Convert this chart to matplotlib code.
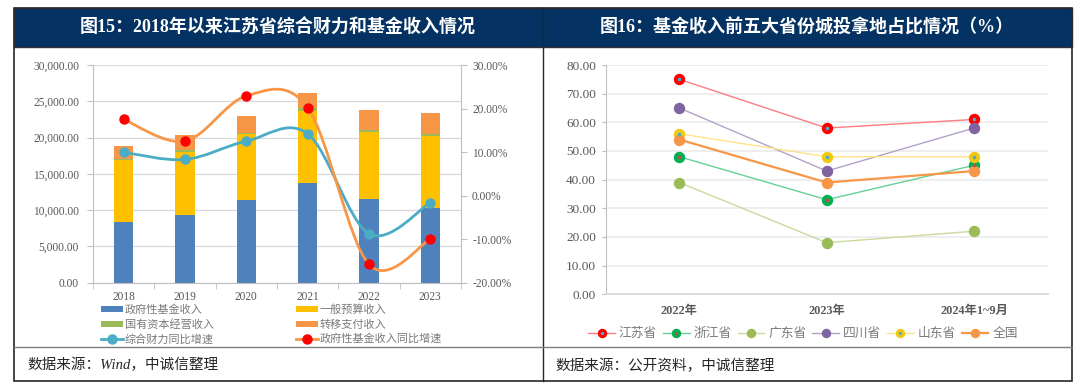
import matplotlib
matplotlib.use('Agg')
import matplotlib.pyplot as plt
import numpy as np
from matplotlib.path import Path
from matplotlib.patches import PathPatch, Rectangle
from matplotlib.lines import Line2D
from matplotlib.ticker import FuncFormatter

plt.rcParams['font.family'] = ['Liberation Serif', 'Noto Sans CJK SC']
plt.rcParams['axes.unicode_minus'] = False

# ---- data: chart 15 ----
years = ['2018', '2019', '2020', '2021', '2022', '2023']
fund_income = [8300, 9290, 11400, 13700, 11530, 10340]
general_budget = [8550, 8680, 9050, 10000, 9190, 9920]
state_capital = [220, 320, 220, 330, 280, 270]
transfer_pay = [1750, 2100, 2300, 2070, 2800, 2900]
total_growth = [9.95, 8.3, 12.5, 14.2, -8.75, -1.6]
fund_growth = [17.5, 12.5, 22.9, 20.2, -15.8, -10.0]

# ---- data: chart 16 ----
periods = ['2022年', '2023年', '2024年1~9月']
provinces = ['江苏省', '浙江省', '广东省', '四川省', '山东省', '全国']
shares = {
    '江苏省': [75, 58, 61],
    '浙江省': [48, 33, 45],
    '广东省': [39, 18, 22],
    '四川省': [65, 43, 58],
    '山东省': [56, 48, 48],
    '全国': [54, 39, 43],
}

W, H = 1080, 391
fig = plt.figure(figsize=(W / 100, H / 100), dpi=100)


def box(x0, y0, x1, y1):
    return [x0 / W, 1 - y1 / H, (x1 - x0) / W, (y1 - y0) / H]


def fx(x):
    return x / W


def fy(y):
    return 1 - y / H


def smooth_path(xs, ys):
    # Excel-like smoothed line (Catmull-Rom -> cubic bezier)
    pts = np.column_stack([xs, ys]).astype(float)
    ext = np.vstack([pts[0], pts, pts[-1]])
    verts = [pts[0]]
    codes = [Path.MOVETO]
    for i in range(len(pts) - 1):
        p0, p1, p2, p3 = ext[i], ext[i + 1], ext[i + 2], ext[i + 3]
        verts += [p1 + (p2 - p0) / 6, p2 - (p3 - p1) / 6, p2]
        codes += [Path.CURVE4] * 3
    return Path(verts, codes)


navy = '#033263'
tick_col = '#595959'
axis_col = '#BFBFBF'
leg_col = '#7A7A7A'

# ---- frame ----
fig.add_artist(Rectangle((fx(14), fy(47)), fx(1072) - fx(14), fy(8) - fy(47),
                         transform=fig.transFigure, facecolor=navy,
                         edgecolor='#333333', lw=1.0, zorder=0))
fig.add_artist(Rectangle((fx(14), fy(381)), fx(1072) - fx(14), fy(8) - fy(381),
                         transform=fig.transFigure, facecolor='none',
                         edgecolor='#262626', lw=1.2, zorder=5))
fig.add_artist(Line2D([fx(543), fx(543)], [fy(8), fy(381)], transform=fig.transFigure,
                      color='#262626', lw=1.0, zorder=5))
fig.add_artist(Line2D([fx(14), fx(1072)], [fy(347), fy(347)], transform=fig.transFigure,
                      color='#7F7F7F', lw=1.0, zorder=5))

fig.text(fx(278), fy(27.5), '图15：2018年以来江苏省综合财力和基金收入情况', color='white',
         fontsize=13, fontweight='bold', ha='center', va='center')
fig.text(fx(807), fy(27.5), '图16：基金收入前五大省份城投拿地占比情况（%）', color='white',
         fontsize=13, fontweight='bold', ha='center', va='center')
fig.text(fx(27), fy(365), '数据来源：Wind，中诚信整理', color='#262626', fontsize=10.5,
         style='italic', ha='left', va='center')
fig.text(fx(555), fy(366), '数据来源：公开资料，中诚信整理', color='#262626', fontsize=10.5,
         style='italic', ha='left', va='center')

# ---- chart 15 ----
ax = fig.add_axes(box(93, 65, 461, 282.7))
x = np.arange(len(years))
bw = 0.31
c_blue, c_yel, c_grn, c_org = '#4F81BD', '#FFC000', '#9BBB59', '#F79646'
b1 = ax.bar(x, fund_income, bw, color=c_blue, zorder=2)
base = np.array(fund_income, dtype=float)
b2 = ax.bar(x, general_budget, bw, bottom=base, color=c_yel, zorder=2)
base += general_budget
b3 = ax.bar(x, state_capital, bw, bottom=base, color=c_grn, zorder=2)
base += state_capital
b4 = ax.bar(x, transfer_pay, bw, bottom=base, color=c_org, zorder=2)

ax.set_xlim(-0.5, len(years) - 0.5)
ax.set_ylim(0, 30000)
ax.set_yticks(np.arange(0, 30001, 5000))
ax.yaxis.set_major_formatter(FuncFormatter(lambda v, p: f'{v:,.2f}'))
ax.set_xticks(x)
ax.set_xticklabels(years)
ax.set_xticks(np.arange(-0.5, len(years)), minor=True)
ax.tick_params(axis='x', which='major', length=0, pad=6, labelsize=8.3, labelcolor=tick_col)
ax.tick_params(axis='x', which='minor', length=4, color=axis_col)
ax.tick_params(axis='y', length=4, color=axis_col, pad=6, labelsize=8.3, labelcolor=tick_col)
ax.grid(axis='y', color='#D9D9D9', lw=0.9)
ax.set_axisbelow(True)
for s in ['top', 'right']:
    ax.spines[s].set_visible(False)
for s in ['left', 'bottom']:
    ax.spines[s].set_color(axis_col)

ax2 = ax.twinx()
ax2.set_ylim(-20, 30)
ax2.set_yticks(np.arange(-20, 31, 10))
ax2.yaxis.set_major_formatter(FuncFormatter(lambda v, p: f'{v:.2f}%'))
ax2.tick_params(axis='y', length=4, color=axis_col, pad=4, labelsize=8.3, labelcolor=tick_col)
for s in ['top', 'left', 'bottom']:
    ax2.spines[s].set_visible(False)
ax2.spines['right'].set_color(axis_col)

c_teal, c_line_org = '#4BACC6', '#F79646'
ax2.add_patch(PathPatch(smooth_path(x, total_growth), fill=False, edgecolor=c_teal, lw=2.0, zorder=3))
ax2.add_patch(PathPatch(smooth_path(x, fund_growth), fill=False, edgecolor=c_line_org, lw=2.0, zorder=3))
ax2.plot(x, total_growth, ls='none', marker='o', ms=6.5, color=c_teal, zorder=4)
ax2.plot(x, fund_growth, ls='none', marker='o', ms=6.5, color='#FF0000', zorder=4)

h_tg = Line2D([], [], color=c_teal, lw=2, marker='o', ms=6.5)
h_fg = Line2D([], [], color=c_line_org, lw=2, marker='o', ms=6.5, mfc='#FF0000', mec='#FF0000')
leg_kw = dict(frameon=False, handlelength=2.0, handleheight=0.45, handletextpad=0.15,
              labelspacing=0.36, borderpad=0, borderaxespad=0, labelcolor=leg_col,
              loc='upper left', prop={'family': ['Liberation Serif', 'Noto Sans CJK SC'], 'size': 8})
fig.legend([b1, b3, h_tg], ['政府性基金收入', '国有资本经营收入', '综合财力同比增速'],
           bbox_to_anchor=(fx(101), fy(304.5)), **leg_kw)
fig.legend([b2, b4, h_fg], ['一般预算收入', '转移支付收入', '政府性基金收入同比增速'],
           bbox_to_anchor=(fx(296), fy(304.5)), **leg_kw)

# ---- chart 16 ----
ax3 = fig.add_axes(box(605.7, 65, 1047.7, 294.3))
styles = {
    '江苏省': ('#FF0000', '#FF7C80', '#4BACC6', 1.0),
    '浙江省': ('#00B050', '#66D096', '#C0504D', 1.0),
    '广东省': ('#9BBB59', '#C9DA9E', None, 1.0),
    '四川省': ('#8064A2', '#B3A2C7', None, 1.0),
    '山东省': ('#F2C811', '#FFE28A', '#4BACC6', 1.0),
    '全国': ('#F79646', '#F79646', None, 1.6),
}
xp = np.arange(len(periods))
handles = []
for name in provinces:
    mc, lc, dc, lw = styles[name]
    ax3.plot(xp, shares[name], color=lc, lw=lw, zorder=2)
    ax3.plot(xp, shares[name], ls='none', marker='o', ms=7.2, color=mc, zorder=3)
    h_line = Line2D([], [], color=lc, lw=lw, marker='o', ms=5.8, mfc=mc, mec=mc)
    if dc is not None:
        ax3.plot(xp, shares[name], ls='none', marker='o', ms=1.6, color=dc, zorder=4)
        handles.append((h_line, Line2D([], [], ls='none', marker='o', ms=1.4, color=dc)))
    else:
        handles.append(h_line)

ax3.set_xlim(-0.5, len(periods) - 0.5)
ax3.set_ylim(0, 80)
ax3.set_yticks(np.arange(0, 81, 10))
ax3.yaxis.set_major_formatter(FuncFormatter(lambda v, p: f'{v:.2f}'))
ax3.set_xticks(xp)
ax3.set_xticklabels(periods, fontweight='bold')
ax3.tick_params(axis='x', length=0, pad=8, labelsize=8.8, labelcolor=tick_col)
ax3.tick_params(axis='y', length=3, color=axis_col, pad=4, labelsize=9.5, labelcolor=tick_col)
ax3.grid(axis='y', color='#EDEDED', lw=1.3)
ax3.set_axisbelow(True)
for s in ['top', 'right']:
    ax3.spines[s].set_visible(False)
ax3.spines['left'].set_color(axis_col)
ax3.spines['bottom'].set_color('#D9D9D9')
ax3.spines['bottom'].set_linewidth(1.3)

fig.legend(handles, provinces, ncol=6, frameon=False, loc='center',
           bbox_to_anchor=(fx(803), fy(334)), handlelength=2.1, handletextpad=0.3,
           columnspacing=0.45, borderpad=0, labelcolor=leg_col,
           prop={'family': ['Liberation Serif', 'Noto Sans CJK SC'], 'size': 9.2})

fig.savefig('out.png', dpi=100)
